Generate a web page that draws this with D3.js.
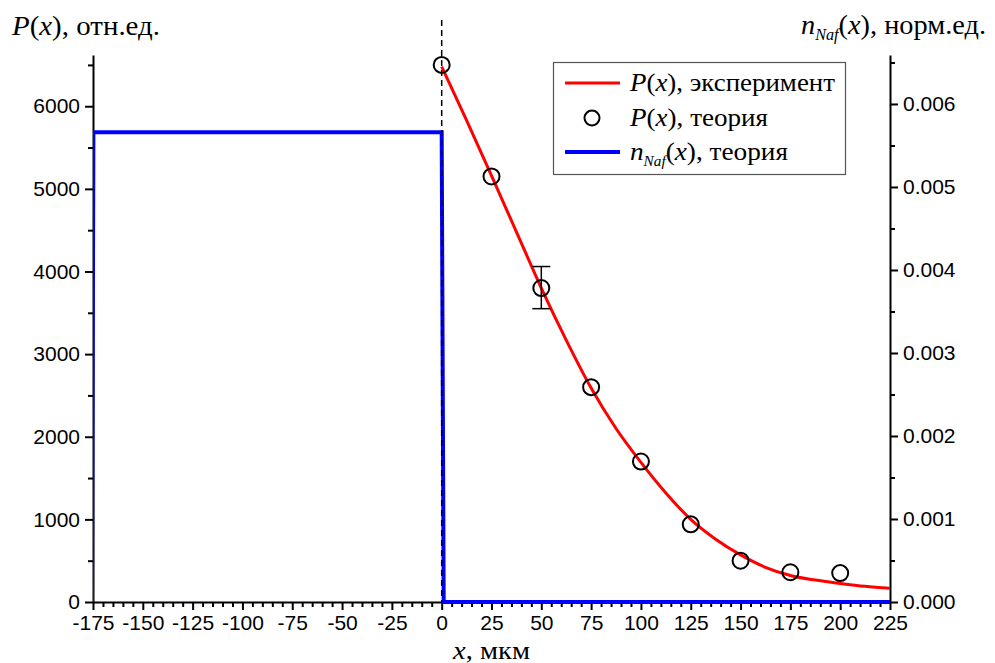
<!DOCTYPE html>
<html>
<head>
<meta charset="utf-8">
<script src="https://cdn.jsdelivr.net/npm/d3@7"></script>
<style>
    body { margin: 0; background: #fff; }
    .tick text { font-family: "Liberation Sans", Arial, sans-serif; font-size: 21px; fill: #000; }
</style>
</head>
<body>
<div id="mainDiv"></div>
<script>
var xExp = [0, 12.5, 25, 37.5, 50, 62.5, 75, 87.5, 100, 112.5, 125, 137.5, 150, 162.5, 175, 187.5, 200, 212.5, 225];
var pExp = [6480, 5830, 5160, 4480, 3800, 3170, 2590, 2100, 1690, 1320, 1000, 760, 570, 420, 320, 265, 225, 190, 165];

// theory points P(x)
var xTheory = [0, 25, 50, 75, 100, 125, 150, 175, 200];
var pTheory = [6500, 5150, 3800, 2600, 1700, 940, 500, 360, 350];

// error bar (only at x = 50)
var errX = [50];
var errLow = [3550];
var errHigh = [4060];

// n_Naf(x) step, right axis
var xStep = [-175.5, -174.8, 0, 1, 225];
var nStep = [0, 0.00566, 0.00566, 0, 0];

var xMajor = d3.range(-175, 226, 25);
var xMinor = d3.range(-175, 226, 5).filter(function (d) { return d % 25 !== 0; });
var yMajor = d3.range(0, 6001, 1000);
var yMinor = d3.range(500, 6600, 1000);
var rMajor = [0, 0.001, 0.002, 0.003, 0.004, 0.005, 0.006];
var rMinor = [0.0005, 0.0015, 0.0025, 0.0035, 0.0045, 0.0055, 0.0065];

var SERIF = 'Liberation Serif';

var W = 995, H = 663;
var svg = d3.select('#mainDiv').append('svg')
    .attr('width', W)
    .attr('height', H);

var x = d3.scaleLinear().domain([-175, 225]).range([93, 890]);
var yL = d3.scaleLinear().domain([0, 6620]).range([602, 55]);
var yR = d3.scaleLinear().domain([0, 0.00659]).range([602, 55]);

svg.append('defs').append('clipPath').attr('id', 'plotClip')
    .append('rect').attr('x', 93).attr('y', 0).attr('width', 797).attr('height', 610);

// axes
function styleAxis(g) {
    g.selectAll('path.domain').attr('stroke', '#000').attr('stroke-width', 2);
    g.selectAll('.tick line').attr('stroke', '#000').attr('stroke-width', 2);
}

var gx = svg.append('g').attr('transform', 'translate(0,602)')
    .call(d3.axisBottom(x).tickValues(xMajor).tickSize(8).tickSizeOuter(0).tickPadding(5)
        .tickFormat(function (d) { return String(d); }));
styleAxis(gx);
var gxm = svg.append('g').attr('transform', 'translate(0,602)')
    .call(d3.axisBottom(x).tickValues(xMinor).tickSize(5).tickFormat(''));
gxm.select('path.domain').remove();
styleAxis(gxm);

var gl = svg.append('g').attr('transform', 'translate(93,0)')
    .call(d3.axisLeft(yL).tickValues(yMajor).tickSize(8).tickSizeOuter(0).tickPadding(5)
        .tickFormat(function (d) { return String(d); }));
styleAxis(gl);
var glm = svg.append('g').attr('transform', 'translate(93,0)')
    .call(d3.axisLeft(yL).tickValues(yMinor).tickSize(5).tickFormat(''));
glm.select('path.domain').remove();
styleAxis(glm);

var gr = svg.append('g').attr('transform', 'translate(890,0)')
    .call(d3.axisRight(yR).tickValues(rMajor).tickSize(8).tickSizeOuter(0).tickPadding(5)
        .tickFormat(d3.format('.3f')));
styleAxis(gr);
var grm = svg.append('g').attr('transform', 'translate(890,0)')
    .call(d3.axisRight(yR).tickValues(rMinor).tickSize(5).tickFormat(''));
grm.select('path.domain').remove();
styleAxis(grm);

// n_Naf step
var stepPts = xStep.map(function (d, i) { return [d, nStep[i]]; });
svg.append('path')
    .datum(stepPts)
    .attr('clip-path', 'url(#plotClip)')
    .attr('fill', 'none')
    .attr('stroke', '#0000ff')
    .attr('stroke-width', 4)
    .attr('d', d3.line().x(function (d) { return x(d[0]); }).y(function (d) { return yR(d[1]); }));

// dashed x = 0 line
svg.append('line')
    .attr('x1', x(0)).attr('x2', x(0))
    .attr('y1', 20).attr('y2', 602)
    .attr('stroke', '#000')
    .attr('stroke-width', 1.5)
    .attr('stroke-dasharray', '6,4');

// experiment curve
var expPts = xExp.map(function (d, i) { return [d, pExp[i]]; });
svg.append('path')
    .datum(expPts)
    .attr('fill', 'none')
    .attr('stroke', '#ff0000')
    .attr('stroke-width', 3)
    .attr('d', d3.line().curve(d3.curveMonotoneX)
        .x(function (d) { return x(d[0]); }).y(function (d) { return yL(d[1]); }));

// error bar
errX.forEach(function (d, i) {
    var g = svg.append('g').attr('stroke', '#000').attr('stroke-width', 1.5);
    g.append('line').attr('x1', x(d)).attr('x2', x(d)).attr('y1', yL(errLow[i])).attr('y2', yL(errHigh[i]));
    g.append('line').attr('x1', x(d) - 9).attr('x2', x(d) + 9).attr('y1', yL(errLow[i])).attr('y2', yL(errLow[i]));
    g.append('line').attr('x1', x(d) - 9).attr('x2', x(d) + 9).attr('y1', yL(errHigh[i])).attr('y2', yL(errHigh[i]));
});

// theory points
svg.append('g').selectAll('circle')
    .data(xTheory)
    .enter().append('circle')
    .attr('cx', function (d) { return x(d); })
    .attr('cy', function (d, i) { return yL(pTheory[i]); })
    .attr('r', 8)
    .attr('fill', 'none')
    .attr('stroke', '#000')
    .attr('stroke-width', 2);

// serif labels with italic parts; width stretched to the reference (Times cyrillic is wider)
function italicLabel(t, parts, width) {
    t.style('font-family', SERIF).attr('fill', '#000');
    parts.forEach(function (p) {
        var s = t.append('tspan').text(p[0]);
        if (p[1]) s.style('font-style', 'italic');
        if (p[2]) s.attr('font-size', p[2]);
        if (p[3]) s.attr('dy', p[3]);
    });
    if (width) t.attr('textLength', width).attr('lengthAdjust', 'spacingAndGlyphs');
    return t;
}

italicLabel(svg.append('text').attr('x', 12).attr('y', 35).attr('font-size', 28),
    [['P', true], ['('], ['x', true], ['), отн.ед.']], 148);

italicLabel(svg.append('text').attr('x', 801).attr('y', 34).attr('font-size', 28),
    [['n', true], ['Naf', true, 16, 6], ['(', false, null, -6], ['x', true], ['), норм.ед.']], 185);

italicLabel(svg.append('text').attr('x', 453).attr('y', 659).attr('font-size', 25),
    [['x', true], [', мкм']], 77);

// legend
var lg = svg.append('g');
lg.append('rect').attr('x', 553.5).attr('y', 62.5).attr('width', 292).attr('height', 112)
    .attr('fill', '#fff').attr('stroke', '#555').attr('stroke-width', 1.2);
lg.append('line').attr('x1', 565).attr('x2', 620).attr('y1', 83).attr('y2', 83)
    .attr('stroke', '#ff0000').attr('stroke-width', 3);
lg.append('circle').attr('cx', 592).attr('cy', 118).attr('r', 7.5)
    .attr('fill', 'none').attr('stroke', '#000').attr('stroke-width', 2);
lg.append('line').attr('x1', 565).attr('x2', 620).attr('y1', 152).attr('y2', 152)
    .attr('stroke', '#0000ff').attr('stroke-width', 4);

italicLabel(lg.append('text').attr('x', 630).attr('y', 91).attr('font-size', 25),
    [['P', true], ['('], ['x', true], ['), эксперимент']], 205);
italicLabel(lg.append('text').attr('x', 630).attr('y', 126).attr('font-size', 25),
    [['P', true], ['('], ['x', true], ['), теория']], 138);
italicLabel(lg.append('text').attr('x', 630).attr('y', 160).attr('font-size', 25),
    [['n', true], ['Naf', true, 14, 6], ['(', false, null, -6], ['x', true], ['), теория']], 158);
</script>
</body>
</html>
